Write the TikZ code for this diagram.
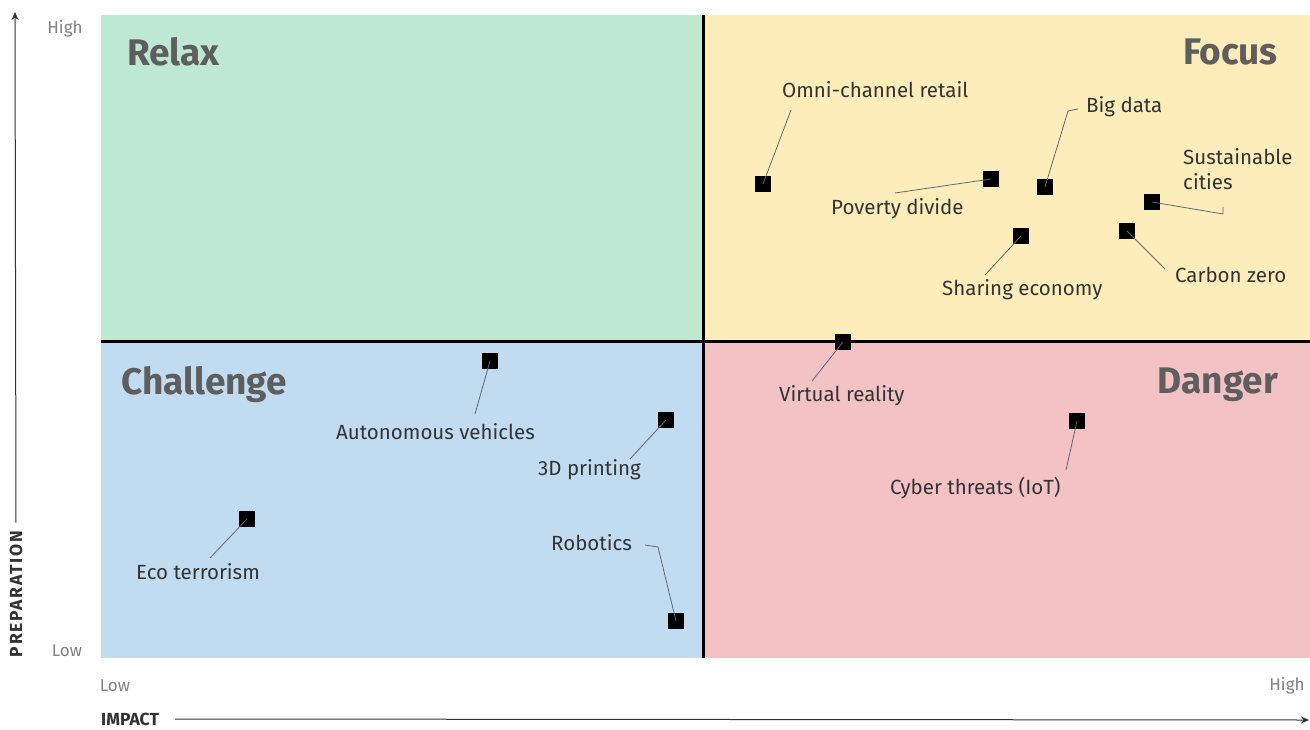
\documentclass[tikz,border=0pt]{standalone}
\usepackage{fontspec}
\setmainfont{Fira Sans}
\usetikzlibrary{arrows.meta}
\definecolor{qgreen}{HTML}{BEE8D2}
\definecolor{qyellow}{HTML}{FDEDBA}
\definecolor{qblue}{HTML}{C1DCF0}
\definecolor{qpink}{HTML}{F2C2C4}
\definecolor{titlegray}{HTML}{5E5E5E}
\definecolor{labeltext}{HTML}{333333}
\definecolor{axisgray}{HTML}{808080}
\definecolor{leader}{HTML}{666677}
\tikzset{
  qtitle/.style={font=\fontsize{37}{40}\selectfont\bfseries, text=titlegray, inner sep=0pt},
  lbl/.style={font=\fontsize{20.5}{25}\selectfont, text=labeltext, inner sep=0pt},
  marker/.style={fill=black, minimum size=16pt, inner sep=0pt, draw=none},
  lead/.style={draw=leader, line width=0.8pt},
  axlbl/.style={font=\fontsize{17}{19}\selectfont, text=axisgray, inner sep=0pt},
  axtitle/.style={font=\fontsize{17.5}{19}\selectfont\bfseries, text=labeltext, inner sep=0pt},
  axline/.style={draw=labeltext, line width=1pt, -{Stealth[length=8pt,width=7pt]}},
  divider/.style={draw=black, line width=3pt}
}
\begin{document}
\begin{tikzpicture}[x=1pt,y=-1pt]
\useasboundingbox (0,0) rectangle (1310,729);
\fill[white] (0,0) rectangle (1310,729);
% quadrants
\fill[qgreen] (101,15) rectangle (703,341);
\fill[qyellow] (703,15) rectangle (1310,341);
\fill[qblue] (101,341) rectangle (703,658);
\fill[qpink] (703,341) rectangle (1310,658);
\draw[divider] (703,15) -- (703,658);
\draw[divider] (101,341) -- (1310,341);
% titles
\node[qtitle, anchor=west] (trelax) at (127,52) {Relax};
\node[qtitle, anchor=east] (tfocus) at (1278,52) {Focus};
\node[qtitle, anchor=west] (tchal) at (121,385) {Challenge};
\node[qtitle, anchor=east] (tdang) at (1278,385) {Danger};
% axes
\node[axlbl] (yhigh) at (65,29) {High};
\node[axlbl] (ylow) at (67,651) {Low};
\node[axlbl] (xlow) at (115,686) {Low};
\node[axlbl] (xhigh) at (1287,686) {High};
\node[axtitle, rotate=90] (prep) at (16,594) {\addfontfeature{LetterSpace=10}PREPARATION};
\node[axtitle, anchor=west] (impact) at (101,719) {IMPACT};
\coordinate (ytop) at (15,12);
\coordinate (xend) at (1309,720);
\draw[axline] (prep.east) ++(0,-8) coordinate (ybot) -- (ytop);
\draw[axline] ([xshift=16pt]impact.east) coordinate (xstart) -- (xend);
% markers
\node[marker] (omni) at (763,184) {};
\node[marker] (pov) at (991,179) {};
\node[marker] (big) at (1045,187) {};
\node[marker] (sust) at (1152,202) {};
\node[marker] (share) at (1021,236) {};
\node[marker] (carb) at (1127,231) {};
\node[marker] (vr) at (843,342) {};
\node[marker] (cyber) at (1077,421) {};
\node[marker] (auto) at (490,361) {};
\node[marker] (print) at (666,420) {};
\node[marker] (eco) at (247,519) {};
\node[marker] (robo) at (676,621) {};
% labels
\node[lbl, anchor=west] (lomni) at (782,90) {Omni-channel retail};
\node[lbl, anchor=west] (lpov) at (831,209) {Poverty divide};
\node[lbl, anchor=west] (lbig) at (1086,107) {Big data};
\node[lbl, anchor=west, align=left] (lsust) at (1183,169) {Sustainable\\cities};
\node[lbl, anchor=west] (lshare) at (942,290) {Sharing economy};
\node[lbl, anchor=west] (lcarb) at (1175,275) {Carbon zero};
\node[lbl, anchor=west] (lvr) at (779,396) {Virtual reality};
\node[lbl, anchor=west] (lcyber) at (890,488) {Cyber threats (IoT)};
\node[lbl, anchor=west] (lauto) at (336,432) {Autonomous vehicles};
\node[lbl, anchor=west] (lprint) at (538,470) {3D printing};
\node[lbl, anchor=west] (leco) at (136,572) {Eco terrorism};
\node[lbl, anchor=west] (lrobo) at (551,543) {Robotics};
% leader ends
\coordinate (eomni) at (791,110);
\coordinate (epov) at (895,193);
\coordinate (ebig1) at (1068,111);
\coordinate (ebig2) at (1078,109);
\coordinate (esust1) at (1223,214);
\coordinate (esust2) at (1223,207);
\coordinate (eshare) at (985,275);
\coordinate (ecarb) at (1165,269);
\coordinate (evr) at (812,381);
\coordinate (ecyber) at (1066,470);
\coordinate (eauto) at (475,414);
\coordinate (eprint) at (630,459);
\coordinate (eeco) at (210,558);
\coordinate (erobo1) at (658,547);
\coordinate (erobo2) at (645,545);
% leaders
\draw[lead] (omni.center) -- (eomni);
\draw[lead] (pov.center) -- (epov);
\draw[lead] (big.center) -- (ebig1) -- (ebig2);
\draw[lead] (sust.center) -- (esust1) -- (esust2);
\draw[lead] (share.center) -- (eshare);
\draw[lead] (carb.center) -- (ecarb);
\draw[lead] (vr.center) -- (evr);
\draw[lead] (cyber.center) -- (ecyber);
\draw[lead] (auto.center) -- (eauto);
\draw[lead] (print.center) -- (eprint);
\draw[lead] (eco.center) -- (eeco);
\draw[lead] (robo.center) -- (erobo1) -- (erobo2);
\end{tikzpicture}
\end{document}
